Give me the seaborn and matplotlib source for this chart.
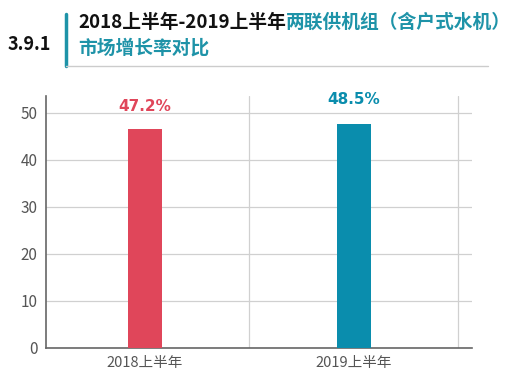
import matplotlib
matplotlib.use("Agg")
import matplotlib.pyplot as plt
import seaborn as sns
import pandas as pd

categories = ["2018上半年", "2019上半年"]
values = [46.6, 47.6]
value_labels = ["47.2%", "48.5%"]
yticks = [0, 10, 20, 30, 40, 50]
colors = ["#E0465A", "#0A8DAD"]
teal = "#1E93A8"

sns.set_theme(style="white")
plt.rcParams['font.family'] = ['Noto Sans CJK SC', 'DejaVu Sans']

fig = plt.figure(figsize=(5.12, 3.85), dpi=100)
ax = fig.add_axes([46/512, 1-348/385, (472-46)/512, (348-96)/385])

df = pd.DataFrame({"cat": categories, "val": values})
sns.barplot(data=df, x="cat", y="val", hue="cat", palette=colors, width=0.167,
            legend=False, ax=ax, saturation=1, zorder=3, linewidth=0)

ax.set_xlim(-0.474, 1.565)
ax.set_ylim(0, 53.6)
ax.set_yticks(yticks)
ax.set_xlabel("")
ax.set_ylabel("")
ax.grid(axis="y", color="#d0d0d0", linewidth=0.9, zorder=0)
for xv in [0.5, 1.5]:
    ax.axvline(xv, color="#d0d0d0", linewidth=0.9, zorder=0)
for s in ["top", "right"]:
    ax.spines[s].set_visible(False)
for s in ["left", "bottom"]:
    ax.spines[s].set_color("#666666")
    ax.spines[s].set_linewidth(1.2)
ax.tick_params(axis="y", labelsize=11, colors="#555555", length=0, pad=6)
ax.tick_params(axis="x", labelsize=10.5, colors="#555555", length=0, pad=6)
for lbl in ax.get_xticklabels():
    lbl.set_fontweight("light")

ypos = [51.4, 52.9]
for i, (lab, c) in enumerate(zip(value_labels, colors)):
    ax.text(i, ypos[i], lab, ha="center", va="center", color=c, fontsize=11,
            fontweight="heavy", family=["DejaVu Sans"])

# title block
fig.text(8/512, 1-44/385, "3.9.1", fontsize=13, fontweight="bold", color="#111111",
         va="center", ha="left")
fig.add_artist(plt.Line2D([66/512, 66/512], [1-14/385, 1-66/385], color=teal, linewidth=2.5))
fig.add_artist(plt.Line2D([66/512, 488/512], [1-65.5/385, 1-65.5/385], color="#cccccc", linewidth=1))
t1 = fig.text(78/512, 1-22/385, "2018上半年-2019上半年", fontsize=13.5, fontweight="bold",
              color="#111111", va="center", ha="left")
fig.canvas.draw()
t2 = ax.annotate("两联供机组（含户式水机）", xy=(1, 0.5), xycoords=t1, va="center", ha="left",
                 fontsize=13.5, fontweight="bold", color=teal, annotation_clip=False)
fig.text(78/512, 1-48/385, "市场增长率对比", fontsize=13.5, fontweight="bold",
         color=teal, va="center", ha="left")

fig.savefig("out.png", dpi=100, facecolor="white")
